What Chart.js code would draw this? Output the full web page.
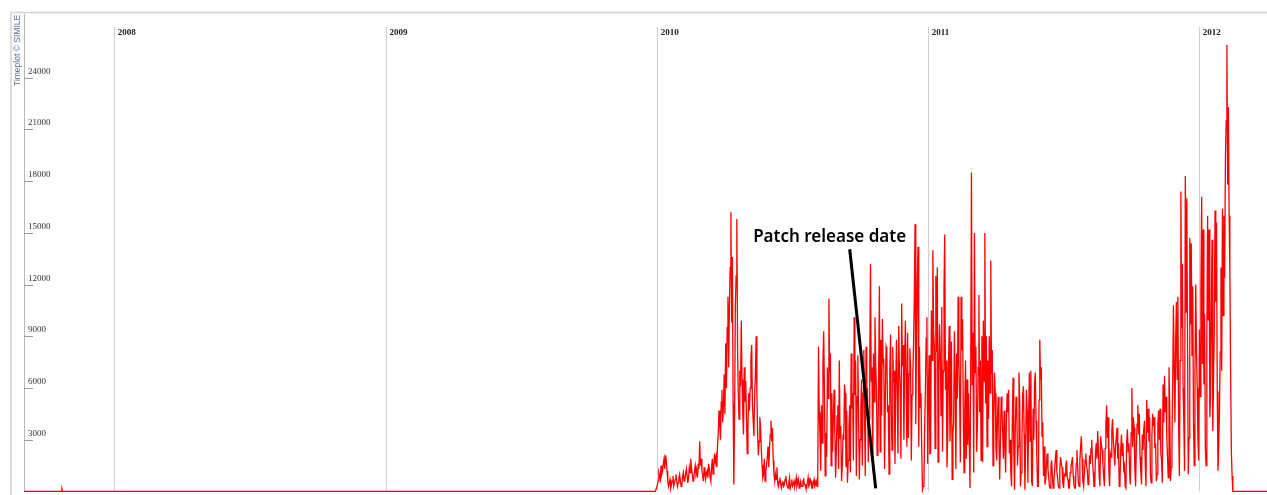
<!DOCTYPE html>
<html>
<head>
<meta charset="utf-8">
<script src="https://cdn.jsdelivr.net/npm/chart.js@4.4.1/dist/chart.umd.min.js"></script>
<style>
  html, body { margin: 0; padding: 0; background: #fff; }
  #wrap { width: 1267px; height: 495px; }
</style>
</head>
<body>
<div id="wrap"><canvas id="plot" width="1267" height="495"></canvas></div>
<script>
// daily counts, day 0 = 2010-01-01
const startDay = 0;
const dailyDownloads = [
  200,400, 600,1100, 900,700, 1500,1000, 1200,1600, 1900,1300, 2100,1800, 1200,600, 300,500, 700,200,
  400,600, 900,300, 500,700, 1000,600, 300,500, 800,1000, 600,300, 400,900, 1100,600, 700,1000,
  1300,900, 500,800, 1400,1100, 1900,1300, 1000,600, 800,1200, 1500,1000, 1200,800, 1600,1300, 2900,1500,
  1900,1200, 900,600, 1400,1000, 700,1100, 1200,800, 1600,1300, 800,600, 1400,1900, 1000,1500, 2200,1700,
  2000,1400, 2700,3400, 4700,3900, 3000,5200, 5900,4000, 5000,6800, 4500,8600, 6000,9500, 11300,7200, 10700,13000,
  16200,9800, 13600,5100, 400,4500, 10700,12500, 15800,8300, 5500,4200, 7000,6100, 9900,6500, 4500,3300, 7200,5200,
  6400,4300, 2200,3800, 5700,4700, 6000,7800, 8500,5100, 4100,3200, 5500,6800, 9000,5600, 3400,2100, 2900,4300,
  3700,2400, 1500,800, 1000,1900, 600,1200, 1500,2000, 2600,1400, 2500,3300, 4100,2900, 3700,1800, 1000,600,
  1000,700, 1400,500, 300,600, 800,400, 200,500, 600,300, 400,700, 900,500, 300,200, 500,800,
  200,400, 700,300, 400,600, 300,500, 800,300, 500,700, 200,400, 600,300, 300,600, 700,400,
  400,200, 200,500, 800,300, 400,700, 600,200, 200,500, 700,300, 400,600, 300,900,
  8400,4600, 3200,1200, 5000,2800, 7600,9300, 5700,900, 3400,2000, 7200,5400, 11200,6900, 8000,1500, 5700,2300,
  4200,5900, 3500,800, 2400,4400, 5000,1300, 7600,3100, 3800,600, 1400,3300, 3000,6200, 5700,1400, 4700,500,
  1800,3700, 5000,1100, 8000,4800, 5700,1800, 10100,5600, 7600,900, 5500,7900, 4000,700, 3000,4900, 6500,1500,
  5700,8200, 4500,900, 8400,5100, 6000,1700, 4200,7300, 13200,6400, 7200,1200, 8000,5200, 10100,7400, 6100,2100,
  2600,6800, 11900,2300, 8800,4400, 10000,7700, 7200,1300, 5500,8400, 8200,4600, 5000,1000, 6900,9100, 4800,2400,
  8400,6300, 7000,1600, 6100,8800, 5800,2200, 9600,6900, 6000,1900, 10900,7300, 8500,3000, 7600,9900, 6300,2600,
  9200,3100, 6800,8300, 7200,1800, 5600,6700, 8600,11200, 15500,3900, 9000,12400, 14200,2600, 8400,4900, 5700,2500,
  90,300, 490,3800, 6000,8900, 10100,1600, 5700,7900, 2200,2200, 10500,7600, 14000,9300, 8400,2500, 12500,8100,
  13000,1700, 6700,9700, 8000,4400, 10700,2300, 7000,11800, 14900,5900, 7600,1400, 3200,7100, 9600,2900, 5000,8700,
  700,3400, 4000,9300, 6700,1300, 8000,5400, 11300,7600, 5700,1700, 11300,8200, 10000,4500, 1100,4900, 7600,1900,
  6500,2700, 5700,3100, 200,7300, 18500,6200, 9200,1100, 15000,6900, 8400,2300, 3800,7200, 11400,4600, 7600,1800,
  9000,1700, 9900,6400, 15000,5100, 9000,2600, 7600,4200, 9000,5700, 13400,6800, 8200,1500, 4200,6900, 5700,2500,
  1800,4300, 5500,3100, 700,2900, 5500,4800, 3500,1900, 4700,2600, 1100,3900, 5700,4600, 5900,2200, 3000,1100,
  300,4100, 6600,2400, 100,3700, 5500,4900, 1500,2600, 6900,5200, 300,1100, 3000,5600, 6100,3300, 100,2800,
  5900,4700, 500,4400, 6900,2900, 7000,600, 300,4800, 3000,6300, 6900,4100, 2000,300, 300,5300, 8800,6500,
  7200,3200, 4000,900, 2600,400, 700,1600, 2200,1300, 800,300, 200,1500, 1800,900, 200,600, 1200,1900,
  2400,1100, 800,300, 200,1300, 2000,1600, 1400,500, 200,1000, 900,1500, 1800,800, 700,200, 200,1100,
  1400,1700, 2000,900, 400,200, 200,1600, 2400,1400, 500,300, 1800,2600, 3200,1900, 600,300, 1000,1800,
  2200,1500, 1200,400, 500,2100, 1600,2500, 3000,1800, 1100,300, 300,2200, 2800,1900, 3500,2400, 900,300,
  3200,2700, 2400,1600, 900,300, 2500,3800, 5000,3100, 4300,1200, 300,2200, 2000,3500, 4200,3000, 2400,1500,
  2600,3100, 3700,1900, 2800,300, 500,2400, 3300,2100, 2800,1300, 1500,300, 200,2900, 3600,2300, 2800,1100,
  400,3400, 6000,2600, 4300,3700, 1400,300, 2500,3900, 5000,3300, 4500,2000, 1200,400, 3300,2400, 3600,4100,
  1600,300, 5300,3400, 4800,2900, 4300,1000, 500,3200, 4500,3800, 4300,2500, 2800,600, 1000,3900, 4700,3000,
  4800,2200, 1800,500, 6200,4000, 6700,4600, 5500,3200, 2000,800, 7200,5000, 600,1400, 2600,6300, 10800,7100,
  4000,8800, 11000,6500, 11300,3800, 900,7600, 17400,9500, 13200,6000, 4000,1200, 18300,10400, 17000,8300, 1000,3100,
  14700,9700, 14400,7900, 11900,4100, 1500,6800, 12000,8300, 6000,3000, 1800,9400, 5500,11500, 17100,7400, 15200,6200,
  10300,2400, 1500,8800, 16000,9900, 15200,4300, 5500,10600, 14600,3500, 6500,9200, 16300,11000, 15600,5800, 1200,2600,
  4700,8100, 13000,7000, 16400,10200, 16000,12400, 19300,21500, 25900,17800, 22300,16000, 12800,6900, 2300,900, 0
];
// quiet stretch before 2010 (a single blip in autumn 2007)
const earlyDays = [-852, -802, -801, -800, -2, -1];
const earlyVals = [0, 0, 150, 0, 0, 0];

const yearLabels = ['2008', '2009', '2010', '2011', '2012'];
const yTicks = [3000, 6000, 9000, 12000, 15000, 18000, 21000, 24000];

const noteText = 'Patch release date';
const noteDay = 233, noteVal = 14500;
const pointerDays = [260, 295];
const pointerVals = [14050, 180];

const dayOf = y => (Date.UTC(+y, 0, 1) - Date.UTC(2010, 0, 1)) / 864e5;

const points = earlyDays.map((d, i) => ({ x: d, y: earlyVals[i] }))
  .concat(dailyDownloads.map((v, i) => ({ x: startDay + i, y: v })))
  .concat([{ x: 822, y: 0 }]);

const timeplot = {
  id: 'timeplot',
  beforeDatasetsDraw(chart) {
    const { ctx, chartArea: a, scales: { x, y } } = chart;
    ctx.save();
    // outer frame
    ctx.strokeStyle = '#d4d4d4';
    ctx.lineWidth = 1.5;
    ctx.beginPath();
    ctx.moveTo(11, 495); ctx.lineTo(11, 12.5); ctx.lineTo(1267, 12.5);
    ctx.stroke();
    // year lines
    ctx.strokeStyle = '#cfcfcf';
    ctx.lineWidth = 1;
    yearLabels.forEach(l => {
      const px = Math.round(x.getPixelForValue(dayOf(l))) + 0.5;
      ctx.beginPath();
      ctx.moveTo(px, 27); ctx.lineTo(px, y.getPixelForValue(0));
      ctx.stroke();
    });
    // value axis
    ctx.strokeStyle = '#b8b8b8';
    ctx.beginPath();
    ctx.moveTo(a.left + 0.5, a.top); ctx.lineTo(a.left + 0.5, y.getPixelForValue(0));
    ctx.stroke();
    ctx.restore();
  },
  afterDatasetsDraw(chart) {
    const { ctx, chartArea: a, scales: { x, y } } = chart;
    ctx.save();
    // y ticks
    ctx.strokeStyle = '#999';
    ctx.lineWidth = 1;
    ctx.fillStyle = '#333';
    ctx.font = '9px "Liberation Serif"';
    yTicks.forEach(t => {
      const py = Math.round(y.getPixelForValue(t)) + 0.5;
      ctx.beginPath();
      ctx.moveTo(a.left, py); ctx.lineTo(a.left + 9, py);
      ctx.stroke();
      ctx.fillText(String(t), a.left + 4, py - 5);
    });
    // year labels
    ctx.font = 'bold 9px "Liberation Serif"';
    ctx.fillStyle = '#222';
    yearLabels.forEach(l => {
      ctx.fillText(l, x.getPixelForValue(dayOf(l)) + 4, 35);
    });
    // credit
    ctx.save();
    ctx.translate(19.5, 86);
    ctx.rotate(-Math.PI / 2);
    ctx.font = '8.5px "Liberation Sans"';
    ctx.fillStyle = '#5b6b9b';
    ctx.fillText('Timeplot \u00a9 SIMILE', 0, 0);
    ctx.restore();
    // annotation
    ctx.strokeStyle = '#000';
    ctx.lineWidth = 3;
    ctx.beginPath();
    ctx.moveTo(x.getPixelForValue(pointerDays[0]), y.getPixelForValue(pointerVals[0]));
    ctx.lineTo(x.getPixelForValue(pointerDays[1]), y.getPixelForValue(pointerVals[1]));
    ctx.stroke();
    ctx.font = '600 17px "Noto Sans"';
    ctx.fillStyle = '#000';
    ctx.textAlign = 'center';
    ctx.fillText(noteText, x.getPixelForValue(noteDay), y.getPixelForValue(noteVal));
    ctx.restore();
  }
};

new Chart(document.getElementById('plot'), {
  type: 'line',
  data: {
    datasets: [{
      data: points,
      borderColor: '#ff0000',
      borderWidth: 1.3,
      pointRadius: 0,
      tension: 0,
      fill: false
    }]
  },
  options: {
    responsive: false,
    animation: false,
    layout: { padding: { left: 24, right: 0, top: 14, bottom: 2 } },
    scales: {
      x: { type: 'linear', min: -852, max: 822, display: false },
      y: { min: -90, max: 27700, display: false }
    },
    plugins: { legend: { display: false }, tooltip: { enabled: false } }
  },
  plugins: [timeplot]
});
</script>
</body>
</html>
